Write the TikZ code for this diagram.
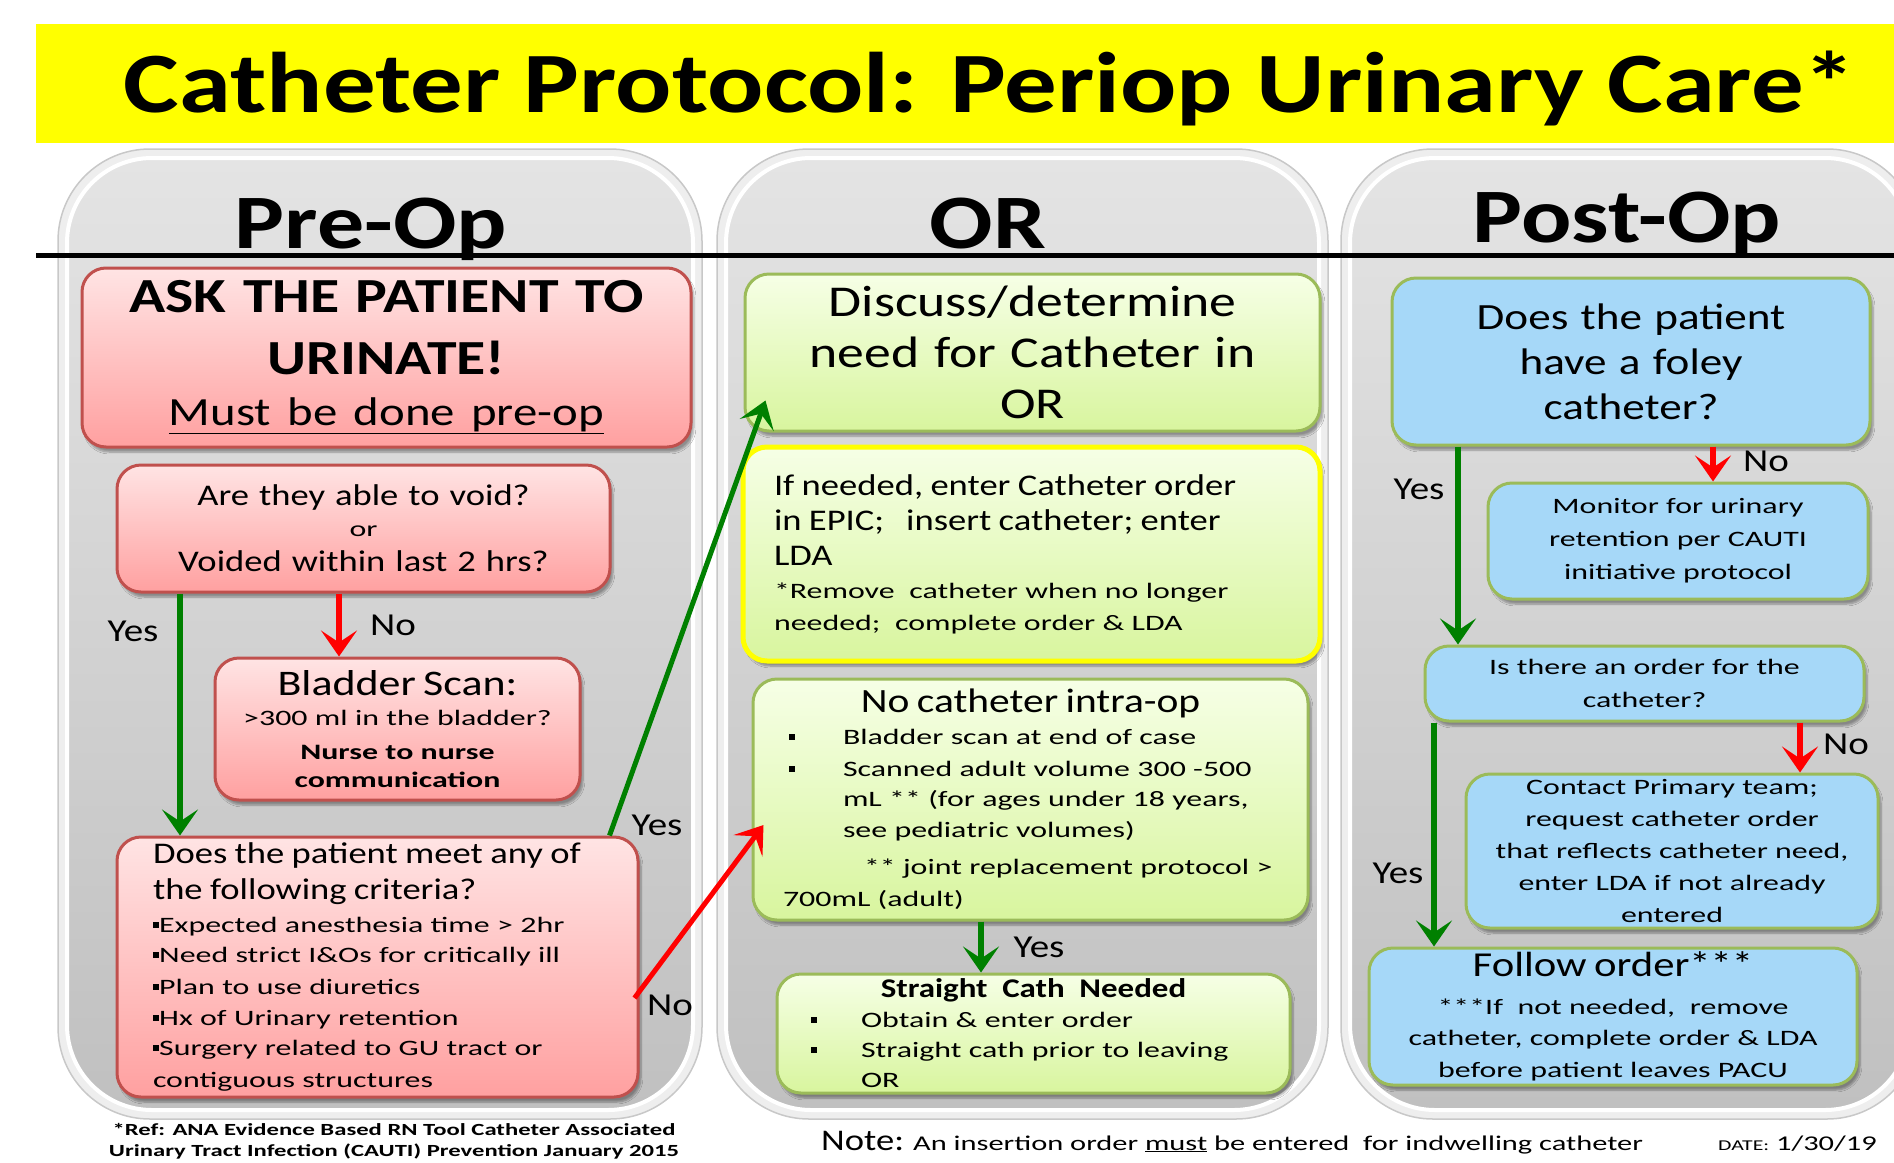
\documentclass[tikz,border=0pt]{standalone}
\usepackage{fontspec}
\setmainfont[FakeStretch=1.22]{Carlito}
\newfontfamily\fsmall[FakeStretch=1.45]{Carlito}
\usetikzlibrary{arrows.meta,shadows.blur}

\definecolor{bandyellow}{RGB}{255,255,0}
\definecolor{pinkedge}{RGB}{192,80,77}
\definecolor{pinktop}{RGB}{255,228,228}
\definecolor{pinkbot}{RGB}{255,160,160}
\definecolor{greenedge}{RGB}{155,187,89}
\definecolor{limetop}{RGB}{246,255,230}
\definecolor{limebot}{RGB}{216,245,158}
\definecolor{skyfill}{RGB}{166,216,248}
\definecolor{arrowgreen}{RGB}{0,128,0}
\definecolor{arrowred}{RGB}{255,0,0}
\definecolor{panelrim}{RGB}{238,238,238}
\definecolor{panelline}{RGB}{200,200,200}
\definecolor{paneltop}{RGB}{228,228,228}
\definecolor{panelbot}{RGB}{192,192,192}

\newcommand{\setfs}[2]{\fontsize{#1}{#2}\selectfont}
\newcommand{\sqbul}{\rule[0.22em]{0.28em}{0.28em}}

\begin{document}
\begin{tikzpicture}[x=1pt, y=-1pt,
  box/.style={draw, rounded corners=24pt, line width=3pt, inner sep=0pt,
    blur shadow={shadow xshift=3pt, shadow yshift=-5pt, shadow blur steps=6, shadow opacity=35}},
  pinkbox/.style={box, draw=pinkedge, top color=pinktop, bottom color=pinkbot},
  limebox/.style={box, draw=greenedge, top color=limetop, bottom color=limebot},
  skybox/.style={box, draw=greenedge, fill=skyfill},
  flowarrow/.style={line width=6pt, -{Stealth[length=26pt, width=36pt, inset=12pt]}},
  yesarrow/.style={flowarrow, draw=arrowgreen},
  noarrow/.style={flowarrow, draw=arrowred},
  answer/.style={inner sep=0pt, font=\setfs{32}{38}},
  colhead/.style={anchor=base, inner sep=0pt, font=\bfseries\setfs{77}{90}},
]
\useasboundingbox (0,0) rectangle (1894,1162);

% title band
\fill[bandyellow] (36,24) rectangle (1900,143);
\node[anchor=base, inner sep=0pt, font=\bfseries\setfs{86}{100}] (title) at (990,112)
  {Catheter Protocol: Periop Urinary Care*};

% the three column panels
\foreach \xa/\xb in {67/693, 726/1319, 1350/1910} {
  \path[fill=panelrim, draw=panelline, line width=1.5pt, rounded corners=92pt]
    (\xa-9,149) rectangle (\xb+9,1119);
  \path[draw=white, line width=4pt, top color=paneltop, bottom color=panelbot, rounded corners=85pt]
    (\xa,158) rectangle (\xb,1110);
}

% column headings
\node[colhead] (hpre) at (371,248) {Pre-Op};
\node[colhead] (hor) at (988,248) {OR};
\node[colhead] (hpost) at (1627,242) {Post-Op};
\draw[line width=5pt] (36,255) -- (1900,255);

% ---------- Pre-Op ----------
\node[pinkbox, minimum width=609pt, minimum height=179pt, text width=599pt, align=center,
      font=\bfseries\setfs{49}{62}] (ask) at (386.5,357.5)
  {ASK THE PATIENT TO\\ URINATE!\\[-11pt]
   {\mdseries\setfs{40}{48}\underline{Must be done pre-op}}};

\node[pinkbox, minimum width=493pt, minimum height=127pt, text width=483pt, align=center,
      font=\setfs{30}{33}] (void) at (363.5,528.5)
  {Are they able to void?\\[-2pt] {\fsmall\setfs{22}{26}or}\\[2pt] Voided within last 2 hrs?};

\node[pinkbox, minimum width=365pt, minimum height=142pt, text width=355pt, align=center,
      font=\fsmall\setfs{22}{30}] (scan) at (397.5,729)
  {{\rmfamily\setfs{36}{40}Bladder Scan:}\\ >300 ml in the bladder?\\[4pt]
   \textbf{Nurse to nurse}\\[-2pt] \textbf{communication}};

\node[pinkbox, minimum width=521pt, minimum height=260pt, text width=449pt, align=left,
      font=\fsmall\setfs{22}{31}] (crit) at (377.5,967)
  {\mbox{\rmfamily\setfs{30}{34}Does the patient meet any of}\\[5pt]
   \mbox{\rmfamily\setfs{30}{34}the following criteria?}\\[2pt]
   \mbox{\sqbul Expected anesthesia time > 2hr}\\[-1pt]
   \mbox{\sqbul Need strict I\&Os for critically ill}\\[1pt]
   \mbox{\sqbul Plan to use diuretics}\\
   \mbox{\sqbul Hx of Urinary retention}\\[-1pt]
   \mbox{\sqbul Surgery related to GU tract or}\\[1pt]
   \mbox{contiguous structures}};

% ---------- OR ----------
\node[limebox, minimum width=575pt, minimum height=157pt, text width=565pt, align=center,
      font=\setfs{44}{51}] (disc) at (1032.5,352.5)
  {Discuss/determine\\ need for Catheter in\\ OR};

\node[limebox, draw=bandyellow, line width=5pt, minimum width=577pt, minimum height=214pt,
      text width=515pt, align=left, font=\fsmall\setfs{22}{33}] (ifn) at (1031.5,554)
  {\mbox{\rmfamily\setfs{30}{34}If needed, enter Catheter order}\\[2pt]
   \mbox{\rmfamily\setfs{30}{34}in EPIC;\ \ \ insert catheter; enter}\\[2pt]
   \mbox{\rmfamily\setfs{30}{34}LDA}\\
   \mbox{*Remove\ \ catheter when no longer}\\[-1pt]
   \mbox{needed;\ \ complete order \& LDA}};

\node[limebox, minimum width=555pt, minimum height=241pt, text width=483pt, align=left,
      font=\fsmall\setfs{22}{31}] (noc) at (1030.5,799.5)
  {\makebox[\hsize][c]{\rmfamily\setfs{34}{38}No catheter intra-op}\\[1pt]
   \mbox{\makebox[54pt][l]{\sqbul}Bladder scan at end of case}\\[1pt]
   \mbox{\makebox[54pt][l]{\sqbul}Scanned adult volume 300 -500}\\[-1pt]
   \mbox{\hspace*{54pt}mL ** (for ages under 18 years,}\\
   \mbox{\hspace*{54pt}see pediatric volumes)}\\[6pt]
   \mbox{\hspace*{75pt}** joint replacement protocol >}\\[1pt]
   \mbox{\hspace*{-6pt}700mL (adult)}};

\node[limebox, minimum width=513pt, minimum height=119pt, text width=445pt, align=left,
      font=\fsmall\setfs{22}{30}] (straight) at (1033.5,1033.5)
  {\makebox[\hsize][c]{\rmfamily\bfseries\setfs{27}{30}Straight\ \ Cath\ \ Needed}\\
   \mbox{\makebox[50pt][l]{\sqbul}Obtain \& enter order}\\
   \mbox{\makebox[50pt][l]{\sqbul}Straight cath prior to leaving}\\
   \mbox{\hspace*{50pt}OR}};

% ---------- Post-Op ----------
\node[skybox, minimum width=478pt, minimum height=167pt, text width=468pt, align=center,
      font=\setfs{37}{45}] (foley) at (1631,361.5)
  {Does the patient\\ have a foley\\ catheter?};

\node[skybox, minimum width=380pt, minimum height=116pt, text width=370pt, align=center,
      font=\fsmall\setfs{22}{33}] (monitor) at (1678,541)
  {Monitor for urinary\\ retention per CAUTI\\ initiative protocol};

\node[skybox, minimum width=439pt, minimum height=75pt, text width=429pt, align=center,
      font=\fsmall\setfs{22}{33}] (order) at (1644.5,683.5)
  {Is there an order for the\\ catheter?};

\node[skybox, minimum width=412pt, minimum height=154pt, text width=402pt, align=center,
      font=\fsmall\setfs{22}{32}] (contact) at (1672,851)
  {Contact Primary team;\\ request catheter order\\ that reflects catheter need,\\
   enter LDA if not already\\ entered};

\node[skybox, minimum width=488pt, minimum height=137pt, text width=478pt, align=center,
      font=\fsmall\setfs{22}{31}] (follow) at (1613,1016.5)
  {{\rmfamily\setfs{35}{38}Follow order***}\\[7pt]
   ***If\ \ not needed,\ \ remove\\ catheter, complete order \& LDA\\[1pt]
   before patient leaves PACU};

% ---------- connectors ----------
\draw[noarrow] (339,0 |- void.south) -- (339,0 |- scan.north);
\draw[yesarrow] (180,0 |- void.south) -- (180,0 |- crit.north);
\draw[yesarrow, line width=5pt] ([xshift=-30pt]crit.north east) -- ([shift={(22,-32)}]disc.south west);
\draw[noarrow, line width=5pt] ([shift={(-5,31)}]crit.east) -- ([shift={(12,25.5)}]noc.west);
\draw[yesarrow] (981,0 |- noc.south) -- (981,0 |- straight.north);
\draw[noarrow] (1713,0 |- foley.south) -- (1713,0 |- monitor.north);
\draw[yesarrow] (1458,0 |- foley.south) -- (1458,0 |- order.north);
\draw[noarrow] (1800,0 |- order.south) -- (1800,0 |- contact.north);
\draw[yesarrow] (1434,0 |- order.south) -- (1434,0 |- follow.north);

% answer labels
\node[answer] (noA) at (393,625) {No};
\node[answer] (yesA) at (133,631) {Yes};
\node[answer] (yesB) at (657,825) {Yes};
\node[answer] (noB) at (670,1005) {No};
\node[answer] (yesC) at (1039,947) {Yes};
\node[answer] (noC) at (1766,461) {No};
\node[answer] (yesD) at (1419,489) {Yes};
\node[answer] (noD) at (1846,744) {No};
\node[answer] (yesE) at (1398,873) {Yes};

% footer
\node[anchor=north, inner sep=0pt, align=center, font=\fsmall\bfseries\setfs{17}{21}] (ref) at (394,1123)
  {*Ref: ANA Evidence Based RN Tool Catheter Associated\\
   Urinary Tract Infection (CAUTI) Prevention January 2015};
\node[anchor=base west, inner sep=0pt, font=\fsmall\setfs{21}{24}] (note) at (821,1150)
  {{\rmfamily\setfs{30}{30}Note:} An insertion order \underline{must} be entered\ \ for indwelling catheter};
\node[anchor=base west, inner sep=0pt, font=\fsmall\setfs{21}{24}] (date) at (1718,1150)
  {{\setfs{15}{15}DATE:} 1/30/19};
\end{tikzpicture}
\end{document}
